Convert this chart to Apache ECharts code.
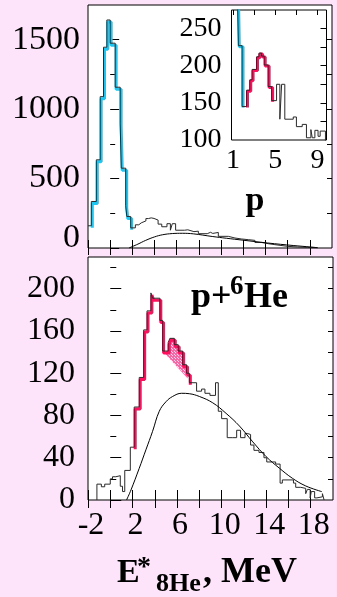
<!DOCTYPE html>
<html><head><meta charset="utf-8">
<script src="https://cdn.jsdelivr.net/npm/echarts@6.0.0/dist/echarts.min.js"></script>
<style>html,body{margin:0;padding:0;background:#fde4fa;}#c{width:337px;height:597px;}</style>
</head><body><div id="c"></div>
<script>
// ---------- DATA ----------
// Axes
const xTicks = [-2,0,2,4,6,8,10,12,14,16,18];
const xLabels = [-2,2,6,10,14,18];
const topYMajor = [0,500,1000,1500];
const topYMinor = [250,750,1250];
const topYRight = [250,500,750,1000,1250,1500];
const insetXTicks = [1,3,5,7,9];
const insetXLabels = [1,5,9];
const insetYLabels = [100,150,200,250];
const insetYTicks = [125,150,175,200,225,250];
const botYMajor = [0,40,80,120,160,200];
const botYMinor = [20,60,100,140,180,220];
const botYRight = [20,40,60,80,100,120,140,160,180,200,220];

// Top panel "p": histogram bin left edges (MeV) and counts
const topEdges  = [-2.0,-1.7,-1.25,-0.9,-0.6,-0.3,0.0,0.45,0.9,1.0,1.4,1.5,1.85,2.27,2.58,2.8,3.22,3.45,3.7,3.95,4.32,4.65,5.12,5.43,5.6,5.9,6.7,7.0,7.55,7.95,8.37,8.5,8.75,9.05,9.25,9.75,10.65,11.25,11.85,12.45,13.05,13.65,14.25,14.85,16.0,16.9,17.8];
const topCounts = [160,335,635,1090,1446,1642,1475,1158,899,575,304,227,145,167,181,195,212,217,213,201,172,153,175,128,175,128,131,118,121,103,114,103,113,105,112,84,72,65,60,55,40,31,24,12,7,4,2];
const topEnd = 18.7;
const topCyanRange = [-1.7, 1.85];
const topRedRange = [2.27, 4.65];
// Top smooth curve
const topCurveX = [1.7,2.5,3.2,4.0,4.7,5.6,6.5,7.5,9.2,10.5,11.9,14.2,16.5,18.1,18.7];
const topCurveY = [0,28,55,80,95,104,106,102,83,70,57,36,18,7,2];

// Bottom panel "p+6He"
const botEdges  = [-1.2,-0.8,-0.5,0.0,0.2,0.5,0.9,1.1,1.3,1.8,2.15,2.6,3.0,3.3,3.65,3.8,4.45,4.7,5.2,5.35,5.75,6.1,6.5,6.85,7.1,7.75,8.2,8.5,8.95,9.45,9.7,10.0,10.5,11.0,11.35,11.7,12.1,12.3,12.6,12.9,13.35,13.8,14.05,14.85,15.25,15.45,16.45,16.65,17.1,17.55,17.7,17.95,18.05,18.35,18.55,19.05];
const botCounts = [15,12.5,15,20,22,23,13,8,28,50,88,116,161,179,196,191,170,141,149,153,147,141,128,120,111,103,105,101,99,111,84,77,59,59,66,59,63,62,52,47,45,40,36,34,16,19,16,12,11,6,10,2,8,2,3,6];
const botEnd = 19.2;
const botRedRange = [2.15, 7.1];
const pinkBase = [[4.7,141],[6.95,115]];
const botCurveX = [1.46,1.86,2.6,3.2,3.8,4.4,5.0,5.6,6.4,7.1,8.0,9.2,10.4,11.6,12.8,14.0,15.2,16.35,17.55,19.0];
const botCurveY = [0,9.5,30,47.5,65,84,93,98,101,100.6,98,92,82,70,55,41,30,20.6,13.3,7.9];

// ---------- HELPERS ----------
function stepPts(edges, counts, end, base) {
  const p = [];
  if (base !== undefined) p.push([edges[0], base]);
  edges.forEach((e,i)=>p.push([e, counts[i]]));
  p.push([end, counts[counts.length-1]]);
  if (base !== undefined) p.push([end, base]);
  return p;
}
function overlayPts(edges, counts, range) {
  const i0 = edges.indexOf(range[0]), i1 = edges.indexOf(range[1]);
  const p = [[edges[i0], counts[i0-1]]];
  for (let i=i0;i<i1;i++) p.push([edges[i], counts[i]]);
  p.push([edges[i1], counts[i1-1]]);
  p.push([edges[i1], counts[i1]]);
  return p;
}
function zip(a,b){return a.map((v,i)=>[v,b[i]]);}
function pinkPoly(edges, counts, base) {
  const xa = base[0][0], xb = base[1][0];
  const poly = [];
  for (let i=0;i<edges.length;i++) {
    const l = edges[i], r = i+1<edges.length ? edges[i+1] : botEnd;
    if (r <= xa || l >= xb) continue;
    poly.push([Math.max(l,xa), counts[i]]);
    poly.push([Math.min(r,xb), counts[i]]);
  }
  poly.push(base[1]); poly.push(base[0]);
  return poly;
}
const pinkPolygon = pinkPoly(botEdges, botCounts, pinkBase);

const SERIF = 'Liberation Serif';
const CYAN = '#1ec6f2', RED = '#ff0f5e', HIST = '#2a2a2a';

function hiddenX(g,min,max){return {gridIndex:g,type:'value',min,max,show:false};}
function hiddenY(g,min,max){return {gridIndex:g,type:'value',min,max,show:false};}
function tickAxis(g, min, max, pos, ticks, len, labels, labelOpt) {
  return {gridIndex:g, type:'value', min, max, position:pos,
    axisLine:{show:false}, splitLine:{show:false},
    axisTick:{show:true, inside:true, length:len, customValues:ticks, lineStyle:{color:'#000',width:1}},
    axisLabel: labels ? Object.assign({show:true, customValues:labels, color:'#000', fontFamily:SERIF}, labelOpt) : {show:false}
  };
}

// dotted pattern for hatched area
const pc = document.createElement('canvas'); pc.width = 3; pc.height = 3;
const pctx = pc.getContext('2d');
pctx.fillStyle = '#f46aa8'; pctx.fillRect(0,0,3,3);
pctx.fillStyle = '#fcd6e8'; pctx.fillRect(1,1,1,1); pctx.fillRect(0,0,1,1);

const chart = echarts.init(document.getElementById('c'), null, {renderer:'canvas'});
const option = {
  animation:false,
  backgroundColor:'#fde4fa',
  grid:[
    {left:88, top:5, width:244, height:243, show:true, backgroundColor:'#fff', borderColor:'#000', borderWidth:1},
    {left:89, top:7, width:244, height:243, show:false},
    {left:231.5, top:10, width:95, height:130, show:true, backgroundColor:'#fff', borderColor:'#000', borderWidth:1},
    {left:232.5, top:11, width:95, height:130, show:false},
    {left:88, top:257, width:245, height:243, show:true, backgroundColor:'#fff', borderColor:'#000', borderWidth:1},
    {left:89, top:259, width:245, height:243, show:false}
  ],
  xAxis:[
    tickAxis(0,-2,20,'bottom',xTicks,8,null),
    tickAxis(0,-2,20,'top',xTicks,7,null),
    hiddenX(1,-2,20),
    tickAxis(2,0.85,9.85,'bottom',[],0,insetXLabels,{fontSize:28, margin:7}),
    tickAxis(2,0.85,9.85,'top',insetXTicks,5,null),
    hiddenX(3,0.85,9.85),
    tickAxis(4,-2,20,'bottom',xTicks,10,xLabels,{fontSize:32, margin:10, padding:[0,0,0,6]}),
    tickAxis(4,-2,20,'top',xTicks,8,null),
    hiddenX(5,-2,20)
  ],
  yAxis:[
    tickAxis(0,0,1750,'left',topYMajor,9,topYMajor,{fontSize:34, margin:8,
      formatter:v=> v===0 ? '{lift|0}' : String(v),
      rich:{lift:{fontSize:34, fontFamily:SERIF, color:'#000', padding:[0,0,20,0]}}}),
    tickAxis(0,0,1750,'left',topYMinor,5,null),
    tickAxis(0,0,1750,'right',topYRight,5,null),
    hiddenY(1,0,1750),
    tickAxis(2,100,275,'left',[],0,insetYLabels,{fontSize:28, margin:10}),
    tickAxis(2,100,275,'right',insetYTicks,6,null),
    hiddenY(3,100,275),
    tickAxis(4,0,230,'left',botYMajor,11,botYMajor,{fontSize:32, margin:13}),
    tickAxis(4,0,230,'left',botYMinor,6,null),
    tickAxis(4,0,230,'right',botYRight,5,null),
    hiddenY(5,0,230)
  ],
  series:[
    // top
    {type:'line', xAxisIndex:2, yAxisIndex:3, step:'end', symbol:'none', z:3,
      data:overlayPts(topEdges, topCounts, topCyanRange), lineStyle:{color:CYAN, width:3}},
    {type:'line', xAxisIndex:0, yAxisIndex:0, step:'end', symbol:'none', z:4,
      data:stepPts(topEdges, topCounts, topEnd), lineStyle:{color:HIST, width:1}},
    {type:'line', xAxisIndex:0, yAxisIndex:0, smooth:0.4, symbol:'none', z:4,
      data:zip(topCurveX, topCurveY), lineStyle:{color:'#000', width:1}},
    // inset
    {type:'line', xAxisIndex:5, yAxisIndex:6, step:'end', symbol:'none', z:3,
      data:overlayPts(topEdges, topCounts, topCyanRange), lineStyle:{color:CYAN, width:3}},
    {type:'line', xAxisIndex:5, yAxisIndex:6, step:'end', symbol:'none', z:3,
      data:overlayPts(topEdges, topCounts, topRedRange), lineStyle:{color:RED, width:3}},
    {type:'line', xAxisIndex:3, yAxisIndex:4, step:'end', symbol:'none', z:4,
      data:stepPts(topEdges, topCounts, topEnd), lineStyle:{color:HIST, width:1}},
    // bottom
    {type:'custom', xAxisIndex:6, yAxisIndex:7, z:2, data:[0],
      renderItem:(params, api)=>({type:'polygon',
        shape:{points: pinkPolygon.map(p=>api.coord(p))},
        style:{fill:{image:pc, repeat:'repeat'}, stroke:null}})},
    {type:'line', xAxisIndex:8, yAxisIndex:10, step:'end', symbol:'none', z:3,
      data:overlayPts(botEdges, botCounts, botRedRange), lineStyle:{color:RED, width:3}},
    {type:'line', xAxisIndex:6, yAxisIndex:7, step:'end', symbol:'none', z:4,
      data:stepPts(botEdges, botCounts, botEnd, 0), lineStyle:{color:HIST, width:1}},
    {type:'line', xAxisIndex:6, yAxisIndex:7, smooth:0.4, symbol:'none', z:4,
      data:zip(botCurveX, botCurveY), lineStyle:{color:'#000', width:1}}
  ],
  graphic:[
    {type:'text', x:255, y:201, style:{text:'p', font:'bold 34px "Liberation Serif"', fill:'#000', align:'center', verticalAlign:'middle'}},
    {type:'text', x:191, y:298, style:{text:'p+', font:'bold 36px "Liberation Serif"', fill:'#000', align:'left', verticalAlign:'middle'}},
    {type:'text', x:230, y:287, style:{text:'6', font:'bold 27px "Liberation Serif"', fill:'#000', align:'left', verticalAlign:'middle'}},
    {type:'text', x:244, y:298, style:{text:'He', font:'bold 36px "Liberation Serif"', fill:'#000', align:'left', verticalAlign:'middle'}},
    {type:'text', x:117, y:573, style:{text:'E', font:'bold 34px "Liberation Serif"', fill:'#000', align:'left', verticalAlign:'middle'}},
    {type:'text', x:137, y:568, style:{text:'*', font:'bold 28px "Liberation Serif"', fill:'#000', align:'left', verticalAlign:'middle'}},
    {type:'text', x:156, y:584, style:{text:'8He', font:'bold 26px "Liberation Serif"', fill:'#000', align:'left', verticalAlign:'middle'}},
    {type:'text', x:203, y:573, style:{text:', MeV', font:'bold 36px "Liberation Serif"', fill:'#000', align:'left', verticalAlign:'middle'}}
  ]
};
chart.setOption(option);
</script>
</body></html>
